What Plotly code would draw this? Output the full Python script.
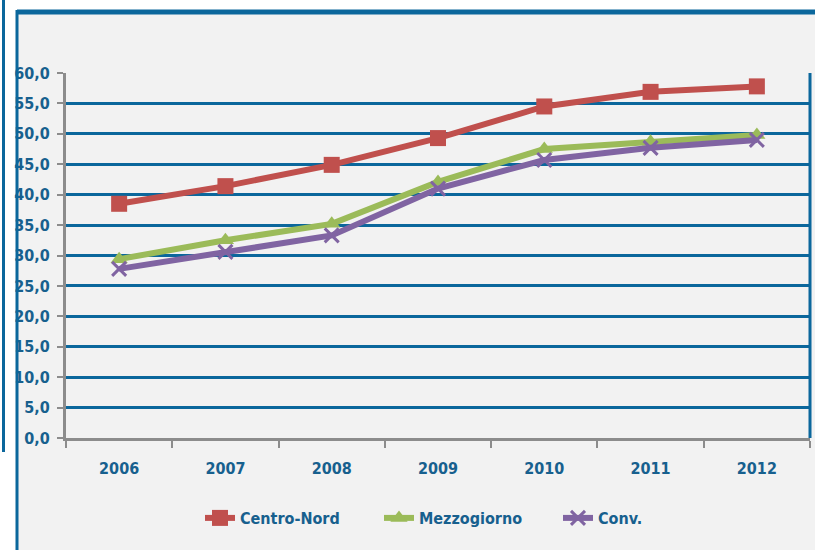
import plotly.graph_objects as go

years = ["2006", "2007", "2008", "2009", "2010", "2011", "2012"]
centro_nord = [38.5, 41.4, 44.9, 49.3, 54.5, 56.9, 57.8]
mezzogiorno = [29.4, 32.5, 35.2, 42.1, 47.5, 48.7, 49.8]
conv = [27.8, 30.6, 33.3, 41.0, 45.7, 47.7, 49.0]
y_ticks = [0, 5, 10, 15, 20, 25, 30, 35, 40, 45, 50, 55, 60]
y_tick_labels = ["0,0", "5,0", "10,0", "15,0", "20,0", "25,0", "30,0",
                 "35,0", "40,0", "45,0", "50,0", "55,0", "60,0"]

W, H = 815, 550
L, R, T, B = 66, 810, 73, 438
TXT = "#17608e"
BLUE = "#0b679c"
GRAY = "#8c8c8c"
FONT = "DejaVu Sans Condensed, Liberation Sans Narrow, sans-serif"


def px(x):
    return (x - L) / (R - L)


def py(y):
    return (B - y) / (B - T)


fig = go.Figure()
fig.add_trace(go.Scatter(
    x=years, y=centro_nord, name="Centro-Nord", mode="lines+markers",
    line=dict(color="#c0504d", width=6),
    marker=dict(symbol="square", size=16, color="#c0504d")))
fig.add_trace(go.Scatter(
    x=years, y=mezzogiorno, name="Mezzogiorno", mode="lines+markers",
    line=dict(color="#9bbb59", width=6),
    marker=dict(symbol="triangle-up", size=15, color="#9bbb59")))
fig.add_trace(go.Scatter(
    x=years, y=conv, name="Conv.", mode="lines+markers",
    line=dict(color="#8064a2", width=6),
    marker=dict(symbol="x-thin", size=14, color="#8064a2",
                line=dict(color="#8064a2", width=3))))

shapes = [
    dict(type="rect", xref="paper", yref="paper", x0=px(17), x1=px(820),
         y0=py(12), y1=py(560), fillcolor="#f2f2f2", line=dict(width=0),
         layer="below"),
    dict(type="line", xref="paper", yref="paper", x0=px(17), x1=px(820),
         y0=py(12), y1=py(12), line=dict(color=BLUE, width=5)),
    dict(type="line", xref="paper", yref="paper", x0=px(17), x1=px(17),
         y0=py(10), y1=py(560), line=dict(color=BLUE, width=3)),
    dict(type="line", xref="paper", yref="paper", x0=px(3.5), x1=px(3.5),
         y0=py(-5), y1=py(452), line=dict(color=BLUE, width=3)),
    dict(type="line", xref="paper", yref="paper", x0=1, x1=1,
         y0=0, y1=1, line=dict(color=BLUE, width=3)),
]

fig.update_layout(
    width=W, height=H,
    margin=dict(l=L, r=W - R, t=T, b=H - B),
    paper_bgcolor="white",
    plot_bgcolor="#f2f2f2",
    font=dict(family=FONT, size=16, color=TXT),
    showlegend=True,
    legend=dict(orientation="h", x=px(200), xanchor="left",
                y=py(518), yanchor="middle",
                font=dict(family=FONT, size=16, color=TXT, weight="bold"),
                bgcolor="rgba(0,0,0,0)", entrywidth=134,
                itemwidth=30, tracegroupgap=0),
    shapes=shapes,
    xaxis=dict(
        type="category", range=[-0.5, 6.5], tickson="boundaries",
        showline=True, linecolor=GRAY, linewidth=3,
        ticks="outside", ticklen=7, tickwidth=2, tickcolor=GRAY,
        showgrid=False, ticklabelstandoff=14,
        tickfont=dict(family=FONT, size=16, color=TXT, weight="bold"),
        fixedrange=True),
    yaxis=dict(
        range=[0, 60], tickvals=y_ticks, ticktext=y_tick_labels,
        showline=True, linecolor=GRAY, linewidth=3,
        ticks="outside", ticklen=6, tickwidth=2, tickcolor=GRAY,
        showgrid=True, gridcolor=BLUE, gridwidth=3, zeroline=False,
        ticklabelstandoff=4,
        tickfont=dict(family=FONT, size=16, color=TXT, weight="bold"),
        fixedrange=True),
)

fig.write_html("out.html",
               config={"displayModeBar": False},
               post_script="document.body.style.margin='0px';"
                           "document.body.style.overflow='hidden';")
